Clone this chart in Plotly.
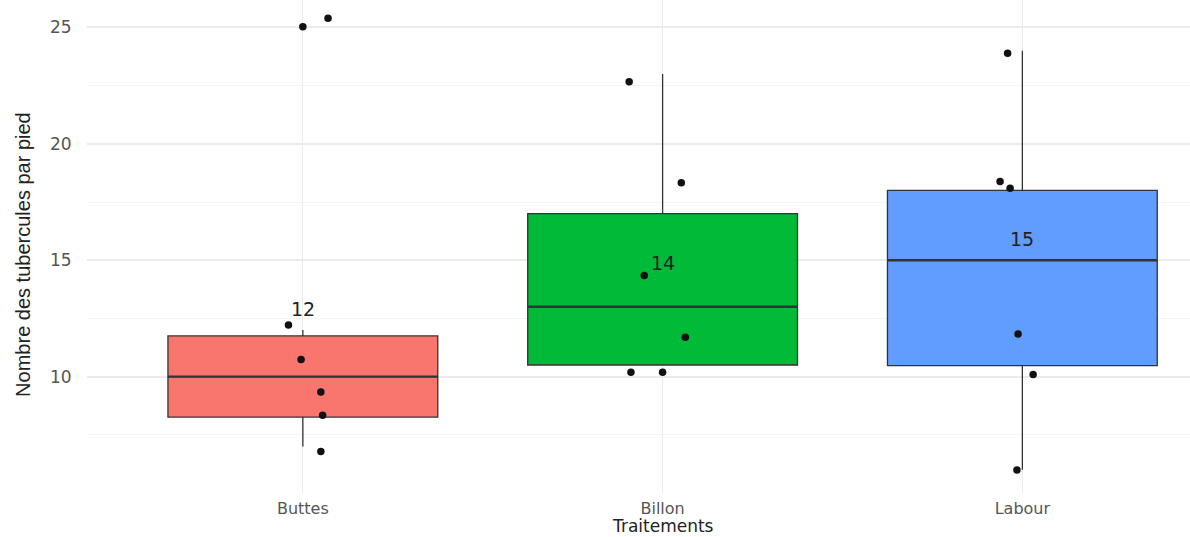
import plotly.graph_objects as go

# Treatments and their box statistics (tubers per plant)
categories = ["Buttes", "Billon", "Labour"]
q1_vals = [8.26, 10.5, 10.47]
median_vals = [10.0, 13.0, 15.0]
q3_vals = [11.75, 17.0, 18.0]
lower_whisker = [7.0, 10.5, 6.0]
upper_whisker = [12.0, 23.0, 24.0]
mean_vals = [12, 14, 15]
fill_colors = ["#F8766D", "#00BA38", "#619CFF"]

# Jittered observations: values and horizontal jitter offsets
points_buttes = [25.03, 25.40, 12.22, 10.73, 9.34, 8.34, 6.78]
jitter_buttes = [0.0, 0.07, -0.04, -0.005, 0.05, 0.055, 0.05]
points_billon = [22.67, 18.33, 14.34, 11.69, 10.19, 10.19]
jitter_billon = [-0.093, 0.052, -0.051, 0.063, -0.088, 0.0]
points_labour = [23.89, 18.38, 18.09, 11.83, 10.09, 5.99]
jitter_labour = [-0.041, -0.062, -0.034, -0.012, 0.03, -0.015]

y_ticks = [10, 15, 20, 25]

BOX_WIDTH = 0.75
OUTLINE = "#333333"
X_RANGE = [0.4, 3.466]

fig = go.Figure()

positions = list(range(1, len(categories) + 1))

for i, pos in enumerate(positions):
    fig.add_trace(go.Box(
        x=[pos],
        q1=[q1_vals[i]],
        median=[median_vals[i]],
        q3=[q3_vals[i]],
        lowerfence=[lower_whisker[i]],
        upperfence=[upper_whisker[i]],
        width=BOX_WIDTH,
        fillcolor=fill_colors[i],
        line=dict(color=OUTLINE, width=1.3),
        whiskerwidth=0,
        boxpoints=False,
        showlegend=False,
        name=categories[i],
    ))
    # thicker median bar, as in ggplot's boxplot
    fig.add_trace(go.Scatter(
        x=[pos - BOX_WIDTH / 2, pos + BOX_WIDTH / 2],
        y=[median_vals[i], median_vals[i]],
        mode="lines",
        line=dict(color=OUTLINE, width=2.4),
        showlegend=False,
        hoverinfo="skip",
    ))

groups = [
    (points_buttes, jitter_buttes),
    (points_billon, jitter_billon),
    (points_labour, jitter_labour),
]
for pos, (vals, jit) in zip(positions, groups):
    fig.add_trace(go.Scatter(
        x=[pos + j for j in jit],
        y=vals,
        mode="markers",
        marker=dict(color="#111111", size=7.5),
        showlegend=False,
    ))

# mean labels above each box
for pos, m in zip(positions, mean_vals):
    fig.add_annotation(
        x=pos, y=m, xref="x", yref="y",
        text=str(m), showarrow=False,
        yshift=21,
        font=dict(family="DejaVu Sans", size=19, color="#222222"),
    )

# axis titles
fig.add_annotation(
    x=0, y=0.483, xref="paper", yref="paper",
    text="Nombre des tubercules par pied", textangle=-90,
    showarrow=False, xanchor="center", yanchor="middle", xshift=-64,
    font=dict(family="Liberation Sans, Arial", size=20, color="#222222"),
)
fig.add_annotation(
    x=(2 - X_RANGE[0]) / (X_RANGE[1] - X_RANGE[0]), y=0,
    xref="paper", yref="paper",
    text="Traitements", showarrow=False,
    xanchor="center", yanchor="middle", yshift=-33,
    font=dict(family="DejaVu Sans", size=17, color="#222222"),
)

fig.update_layout(
    width=1190, height=537,
    margin=dict(l=87, r=0, t=0, b=44),
    paper_bgcolor="white", plot_bgcolor="white",
    showlegend=False,
    xaxis=dict(
        range=X_RANGE,
        tickmode="array", tickvals=positions, ticktext=categories,
        showgrid=True, gridcolor="#ebebeb", gridwidth=1.2,
        zeroline=False, showline=False,
        ticks="outside", ticklen=1, tickcolor="rgba(0,0,0,0)",
        tickfont=dict(family="DejaVu Sans", size=16, color="#555555"),
    ),
    yaxis=dict(
        range=[5.0, 26.18],
        tickmode="array", tickvals=y_ticks,
        showgrid=True, gridcolor="#ebebeb", gridwidth=1.6,
        zeroline=False, showline=False,
        ticks="outside", ticklen=11, tickcolor="rgba(0,0,0,0)",
        tickfont=dict(family="DejaVu Sans", size=17, color="#555555"),
        minor=dict(dtick=2.5, tick0=0, showgrid=True,
                   gridcolor="#f4f4f4", gridwidth=1.2),
    ),
)

fig.write_html("out.html")
